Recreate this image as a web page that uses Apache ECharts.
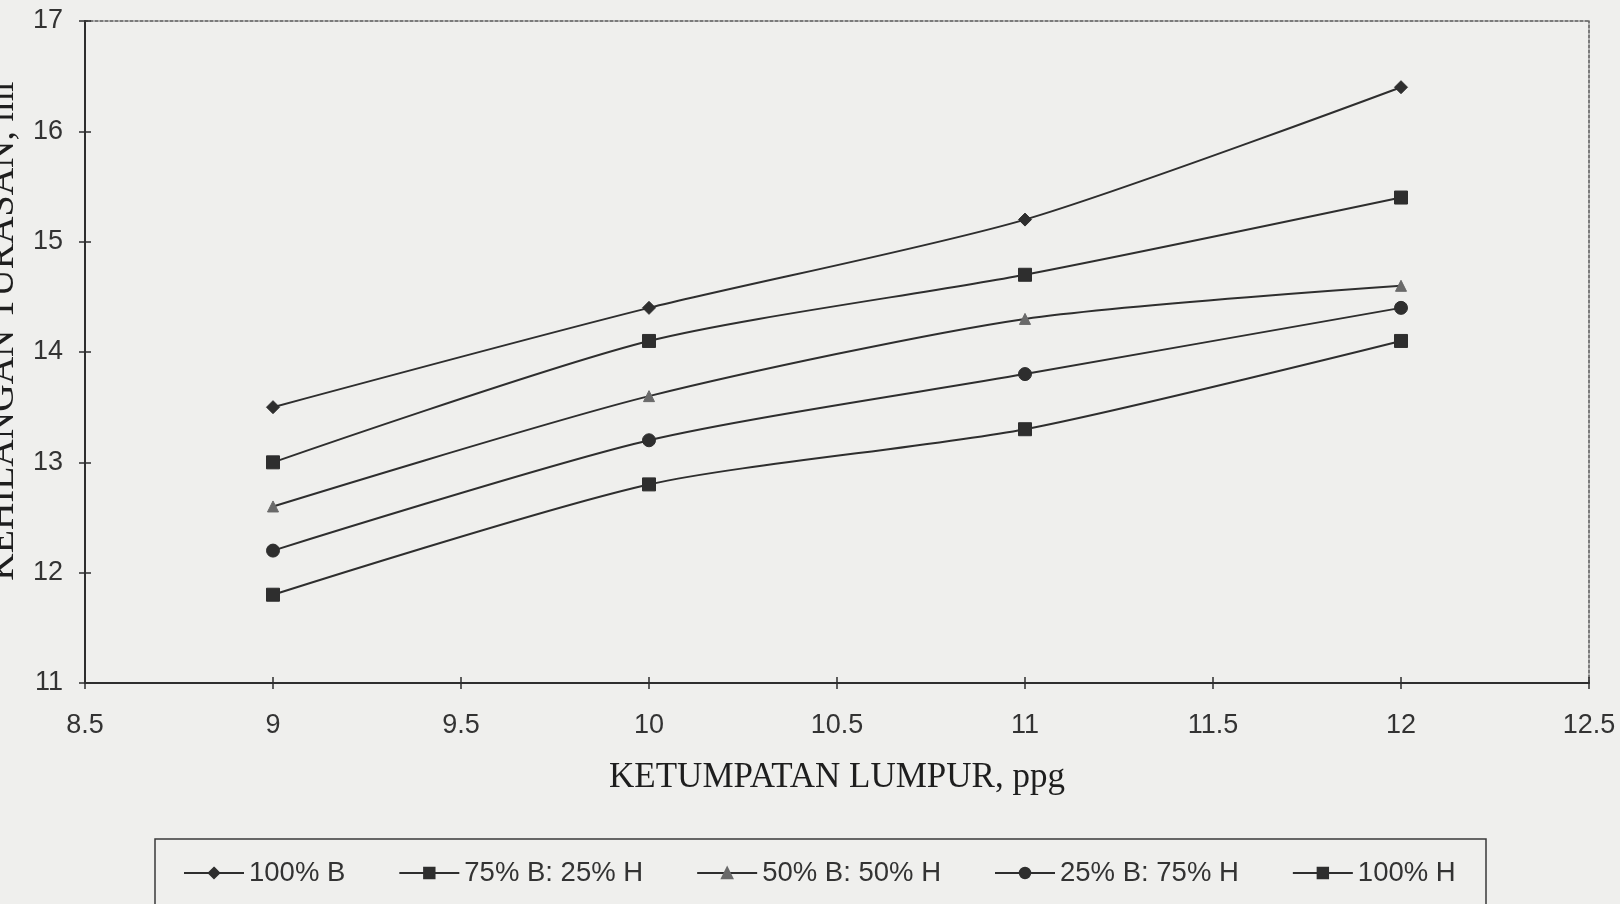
<!DOCTYPE html>
<html>
<head>
<meta charset="utf-8">
<script src="https://cdn.jsdelivr.net/npm/echarts@6/dist/echarts.min.js"></script>
<style>
  html, body { margin: 0; padding: 0; background: #efefed; }
  #chart { width: 1620px; height: 904px; }
</style>
</head>
<body>
<div id="chart"></div>
<script>
// Mud density (ppg) on the x axis
const densities = [9, 10, 11, 12];

// Filtrate loss (ml) for each mud blend
const blend100B = [13.5, 14.4, 15.2, 16.4];
const blend75B25H = [13.0, 14.1, 14.7, 15.4];
const blend50B50H = [12.6, 13.6, 14.3, 14.6];
const blend25B75H = [12.2, 13.2, 13.8, 14.4];
const blend100H = [11.8, 12.8, 13.3, 14.1];

const seriesNames = ['100% B', '75% B: 25% H', '50% B: 50% H', '25% B: 75% H', '100% H'];
const seriesValues = [blend100B, blend75B25H, blend50B50H, blend25B75H, blend100H];
const seriesSymbols = ['diamond', 'rect', 'triangle', 'circle', 'rect'];

const ink = '#2e2e2e';
const labelFont = '"Liberation Sans", Arial, sans-serif';
const titleFont = '"Liberation Serif", "Times New Roman", serif';

const chart = echarts.init(document.getElementById('chart'), null, { renderer: 'canvas' });

const series = seriesNames.map((name, i) => ({
  name: name,
  type: 'line',
  xAxisIndex: 0,
  yAxisIndex: 0,
  data: densities.map((d, j) => [d, seriesValues[i][j]]),
  smooth: 0.25,
  symbol: seriesSymbols[i],
  symbolSize: seriesSymbols[i] === 'triangle' ? 11 : (seriesSymbols[i] === 'diamond' ? 13 : 13),
  lineStyle: { color: ink, width: 2 },
  itemStyle: {
    color: seriesSymbols[i] === 'triangle' ? '#6a6a6a' : ink,
    borderColor: seriesSymbols[i] === 'triangle' ? '#6a6a6a' : ink,
    borderWidth: 1
  },
  emphasis: { disabled: true },
  animation: false
}));

const xCommon = { type: 'value', min: 8.5, max: 12.5, interval: 0.5 };
const yCommon = { type: 'value', min: 11, max: 17, interval: 1 };

chart.setOption({
  backgroundColor: '#efefed',
  animation: false,
  grid: { left: 85, right: 31, top: 21, bottom: 221, containLabel: false, outerBoundsMode: 'none' },
  xAxis: [
    Object.assign({}, xCommon, {
      position: 'bottom',
      name: 'KETUMPATAN LUMPUR, ppg',
      nameLocation: 'middle',
      nameGap: 77,
      nameTextStyle: { fontFamily: titleFont, fontSize: 35, color: '#1e1e1e' },
      axisLine: { show: true, onZero: false, lineStyle: { color: ink, width: 2 } },
      axisTick: { show: true, inside: false, length: 6, lineStyle: { color: ink, width: 1.5 } },
      axisLabel: { margin: 29, fontFamily: labelFont, fontSize: 27, color: '#333',
        formatter: v => String(v) },
      splitLine: { show: false }
    }),
    // inward half of the crossing tick marks
    Object.assign({}, xCommon, {
      position: 'bottom',
      axisLine: { show: false },
      axisTick: { show: true, inside: true, length: 6, lineStyle: { color: ink, width: 1.5 } },
      axisLabel: { show: false },
      splitLine: { show: false }
    }),
    // dotted top border of the plot
    Object.assign({}, xCommon, {
      position: 'top',
      axisLine: { show: true, onZero: false, lineStyle: { color: '#555', width: 1.5, type: [3, 2] } },
      axisTick: { show: false },
      axisLabel: { show: false },
      splitLine: { show: false }
    })
  ],
  yAxis: [
    Object.assign({}, yCommon, {
      position: 'left',
      axisLine: { show: true, onZero: false, lineStyle: { color: ink, width: 2 } },
      axisTick: { show: true, inside: false, length: 6, lineStyle: { color: ink, width: 1.5 } },
      axisLabel: { margin: 22, fontFamily: labelFont, fontSize: 27, color: '#333' },
      splitLine: { show: false }
    }),
    Object.assign({}, yCommon, {
      position: 'left',
      axisLine: { show: false },
      axisTick: { show: true, inside: true, length: 6, lineStyle: { color: ink, width: 1.5 } },
      axisLabel: { show: false },
      splitLine: { show: false }
    }),
    // dotted right border of the plot
    Object.assign({}, yCommon, {
      position: 'right',
      axisLine: { show: true, onZero: false, lineStyle: { color: '#555', width: 1.5, type: [3, 2] } },
      axisTick: { show: false },
      axisLabel: { show: false },
      splitLine: { show: false }
    })
  ],
  legend: {
    data: seriesNames,
    left: 178,
    top: 854,
    orient: 'horizontal',
    itemWidth: 60,
    itemHeight: 13,
    itemGap: 53,
    selectedMode: false,
    textStyle: { fontFamily: labelFont, fontSize: 27.5, color: '#333' }
  },
  graphic: [
    {
      type: 'rect',
      shape: { x: 155, y: 839, width: 1331, height: 120 },
      style: { fill: 'none', stroke: '#3a3a3a', lineWidth: 1.5 },
      silent: true
    },
    // y-axis title, running off the left edge of the page
    {
      type: 'text',
      x: 3,
      y: 331,
      rotation: Math.PI / 2,
      style: {
        text: 'KEHILANGAN TURASAN, ml',
        font: '38px "Liberation Serif", "Times New Roman", serif',
        fill: '#1e1e1e',
        align: 'center',
        verticalAlign: 'middle'
      },
      silent: true
    }
  ],
  series: series
});
</script>
</body>
</html>
